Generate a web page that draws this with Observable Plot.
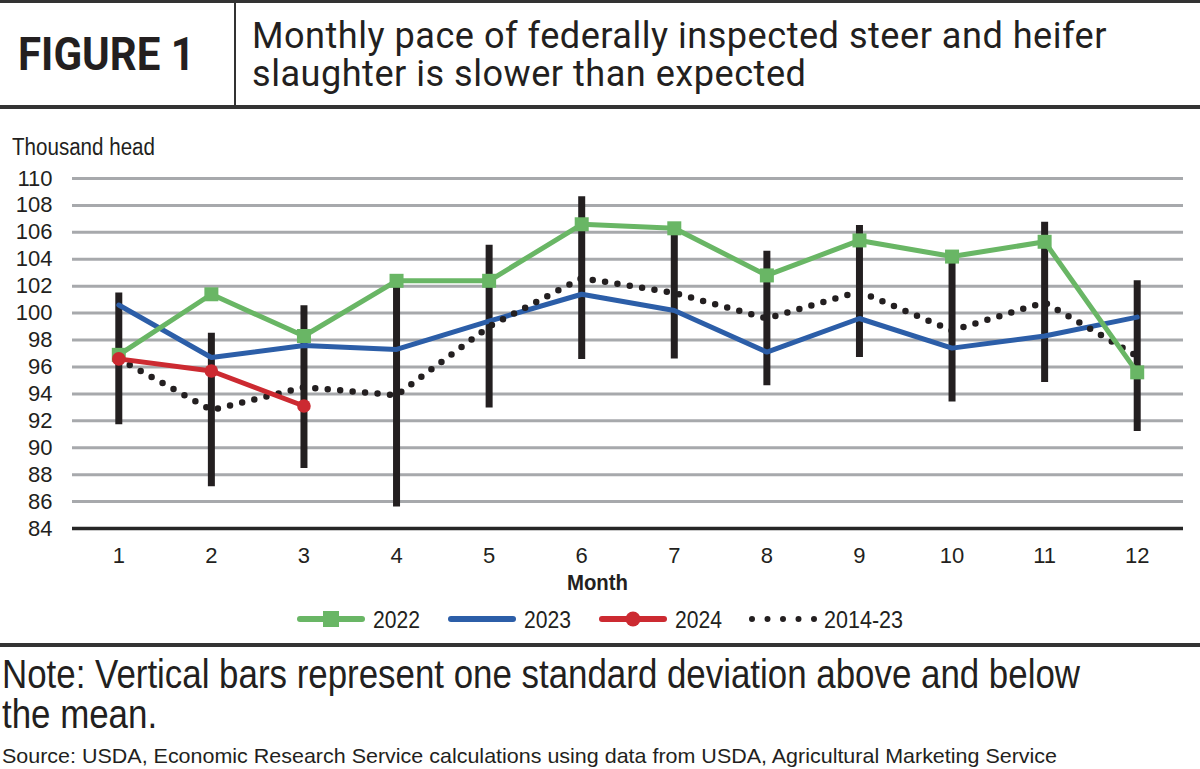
<!DOCTYPE html>
<html>
<head>
<meta charset="utf-8">
<script src="https://cdn.jsdelivr.net/npm/d3@7"></script>
<script src="https://cdn.jsdelivr.net/npm/@observablehq/plot@0.6"></script>
<style>
  html, body { margin: 0; padding: 0; background: #fff; }
  body { width: 1200px; height: 769px; position: relative; overflow: hidden; color: #231f20;
         font-family: "Liberation Sans", Arial, sans-serif; }
  .abs { position: absolute; white-space: nowrap; line-height: 1; transform-origin: 0 0; }
  #header { position: absolute; left: 0; top: 0; width: 1200px; height: 102px;
            border-top: 3px solid #333; border-bottom: 4px solid #333; }
  #divider { position: absolute; left: 234px; top: 3px; width: 2px; height: 102px; background: #333; }
  #fig { left: 18px; top: 31px; font-size: 46px; font-weight: bold; font-family: "Roboto", sans-serif; }
  .title { left: 252px; font-size: 36px; font-family: "Roboto", sans-serif; letter-spacing: 0.5px; }
  #title1 { top: 18px; }
  #title2 { top: 56px; }
  #ylabel { left: 12px; top: 135.5px; font-size: 23px; }
  #xlabel { left: 567px; top: 571.5px; font-size: 22px; font-weight: bold; }
  #chart { position: absolute; left: 0; top: 130px; }
  #legend { position: absolute; left: 0; top: 600px; }
  #rule2 { position: absolute; left: 0; top: 643px; width: 1200px; height: 4px; background: #333; }
  .note { left: 2px; font-size: 40px; }
  #note1 { top: 654px; }
  #note2 { top: 694px; }
  #source { left: 2px; top: 745px; font-size: 21px; }
</style>
</head>
<body>
<div id="header"></div>
<div id="divider"></div>
<div id="fig" class="abs">FIGURE 1</div>
<div id="title1" class="abs title">Monthly pace of federally inspected steer and heifer</div>
<div id="title2" class="abs title">slaughter is slower than expected</div>
<div id="ylabel" class="abs">Thousand head</div>
<div id="chart"></div>
<div id="xlabel" class="abs">Month</div>
<div id="legend"></div>
<div id="rule2"></div>
<div id="note1" class="abs note">Note: Vertical bars represent one standard deviation above and below</div>
<div id="note2" class="abs note">the mean.</div>
<div id="source" class="abs">Source: USDA, Economic Research Service calculations using data from USDA, Agricultural Marketing Service</div>
<script>
// Federally inspected steer and heifer slaughter, thousand head per month
const months = [1, 2, 3, 4, 5, 6, 7, 8, 9, 10, 11, 12];
const y2022 = [96.9, 101.4, 98.3, 102.4, 102.4, 106.6, 106.3, 102.8, 105.4, 104.2, 105.3, 95.6];
const y2023 = [100.6, 96.7, 97.6, 97.3, 99.4, 101.4, 100.2, 97.1, 99.6, 97.4, 98.3, 99.7];
const y2024 = [96.6, 95.7, 93.1];
// 2014-23 average and one standard deviation around it
const mean1423 = [96.6, 92.8, 94.5, 93.9, 99.0, 102.6, 101.5, 99.6, 101.6, 98.7, 100.8, 96.8];
const sd1423 = [4.9, 5.7, 6.05, 8.3, 6.05, 6.05, 4.9, 5.0, 4.9, 5.3, 5.95, 5.6];
const yTicks = [84, 86, 88, 90, 92, 94, 96, 98, 100, 102, 104, 106, 108, 110];
const seriesNames = ["2022", "2023", "2024", "2014-23"];

const colors = { "2022": "#69b665", "2023": "#2c5ea8", "2024": "#cc2a31", "2014-23": "#231f20" };
const FONT = '"Liberation Sans", Arial, sans-serif';

const rows = months.map((m, i) => ({
  month: m, y2022: y2022[i], y2023: y2023[i], mean: mean1423[i], sd: sd1423[i]
}));
const rows2024 = y2024.map((v, i) => ({ month: months[i], value: v }));

const chart = Plot.plot({
  width: 1200,
  height: 470,
  marginLeft: 72,
  marginRight: 17,
  marginTop: 48,
  marginBottom: 72,
  style: { fontFamily: FONT, fontSize: "22px", color: "#231f20", background: "transparent" },
  x: { domain: [0.5, 12.5], ticks: months, tickFormat: d => String(d), tickSize: 0, tickPadding: 19, label: null },
  y: { domain: [84, 110], ticks: yTicks, tickSize: 0, tickPadding: 20, label: null },
  marks: [
    Plot.ruleY(yTicks.filter(v => v > 84), { stroke: "#a7a9ac", strokeWidth: 3 }),
    Plot.ruleY([84], { stroke: "#262626", strokeWidth: 3.5 }),
    Plot.ruleX(rows, { x: "month", y1: d => d.mean - d.sd, y2: d => d.mean + d.sd, stroke: "#231f20", strokeWidth: 7 }),
    Plot.line(rows, { x: "month", y: "y2023", stroke: colors["2023"], strokeWidth: 5, strokeLinejoin: "miter" }),
    Plot.line(rows, { x: "month", y: "mean", stroke: colors["2014-23"], strokeWidth: 6.5, strokeDasharray: "0 12.5", strokeLinecap: "round" }),
    Plot.line(rows, { x: "month", y: "y2022", stroke: colors["2022"], strokeWidth: 5, strokeLinejoin: "miter" }),
    Plot.dot(rows, { x: "month", y: "y2022", symbol: "square", r: 7.9, fill: colors["2022"], stroke: "none" }),
    Plot.line(rows2024, { x: "month", y: "value", stroke: colors["2024"], strokeWidth: 5, strokeLinejoin: "miter" }),
    Plot.dot(rows2024, { x: "month", y: "value", r: 6.8, fill: colors["2024"], stroke: "none" })
  ]
});
document.getElementById("chart").appendChild(chart);

// Legend: one swatch plus label per series
const legendX = { "2022": 298, "2023": 449, "2024": 600, "2014-23": 749 };
const legendTextW = { "2022": 47, "2023": 47, "2024": 47, "2014-23": 79 };
const lg = d3.select("#legend").append("svg").attr("width", 1200).attr("height", 40);
const cy = 19;
for (const name of seriesNames) {
  const x0 = legendX[name], x1 = x0 + 66;
  const g = lg.append("g");
  if (name === "2014-23") {
    g.append("line").attr("x1", x0 + 3).attr("x2", x1).attr("y1", cy).attr("y2", cy)
      .attr("stroke", colors[name]).attr("stroke-width", 6).attr("stroke-linecap", "round")
      .attr("stroke-dasharray", "0 15.5");
  } else {
    g.append("line").attr("x1", x0 + 2).attr("x2", x1 - 2).attr("y1", cy).attr("y2", cy)
      .attr("stroke", colors[name]).attr("stroke-width", 6).attr("stroke-linecap", "round");
    const cx = (x0 + x1) / 2;
    if (name === "2022") {
      g.append("rect").attr("x", cx - 8).attr("y", cy - 8).attr("width", 16).attr("height", 16).attr("fill", colors[name]);
    } else if (name === "2024") {
      g.append("circle").attr("cx", cx).attr("cy", cy).attr("r", 7.5).attr("fill", colors[name]);
    }
  }
  g.append("text").attr("x", x1 + 9).attr("y", cy).attr("dy", "0.36em")
    .attr("font-family", FONT).attr("font-size", 24).attr("fill", "#231f20")
    .attr("textLength", legendTextW[name]).attr("lengthAdjust", "spacingAndGlyphs").text(name);
}

// Horizontally condense a text block to a given rendered width
function fit(id, width, ratioFrom) {
  const el = document.getElementById(id);
  el.style.transform = "none";
  const k = ratioFrom != null ? ratioFrom : width / el.getBoundingClientRect().width;
  el.style.transform = `scaleX(${k})`;
  return k;
}
function layoutTexts() {
  fit("fig", 177);
  const kt = fit("title1", 855);
  fit("title2", null, kt);
  fit("ylabel", 143);
  fit("xlabel", 61);
  const kn = fit("note1", 1078);
  fit("note2", null, kn);
  fit("source", 1055);
}
layoutTexts();
if (document.fonts && document.fonts.ready) document.fonts.ready.then(layoutTexts);
</script>
</body>
</html>
